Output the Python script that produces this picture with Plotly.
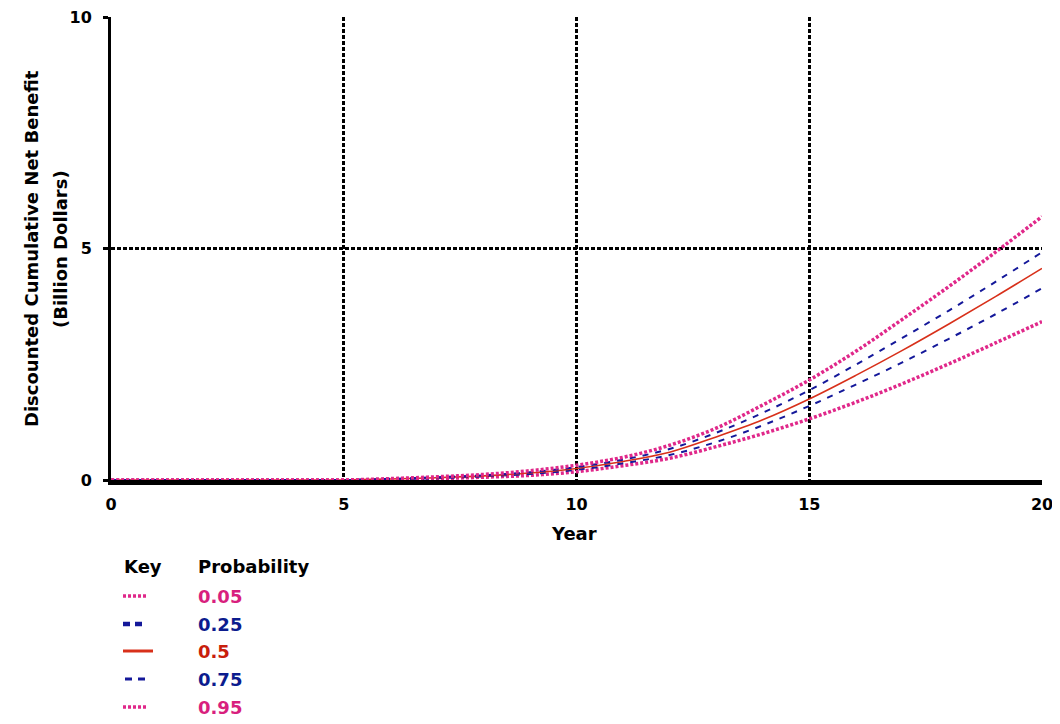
import plotly.graph_objects as go

# ---- data ----
years = [0, 1, 2, 3, 4, 5, 6, 7, 8, 9, 10, 11, 12, 13, 14, 15, 16, 17, 18, 19, 20]
p05 = [0, 0, 0, 0, 0, 0, 0.01, 0.03, 0.06, 0.10, 0.18, 0.31, 0.47, 0.72, 1.00, 1.32, 1.68, 2.08, 2.51, 2.96, 3.42]
p25 = [0, 0, 0, 0, 0, 0, 0.015, 0.04, 0.08, 0.13, 0.22, 0.36, 0.54, 0.82, 1.18, 1.60, 2.06, 2.54, 3.05, 3.58, 4.14]
p50 = [0, 0, 0, 0, 0, 0, 0.02, 0.05, 0.09, 0.15, 0.25, 0.40, 0.60, 0.93, 1.30, 1.75, 2.26, 2.80, 3.37, 3.96, 4.57]
p75 = [0, 0, 0, 0, 0, 0, 0.025, 0.06, 0.10, 0.17, 0.28, 0.44, 0.67, 1.02, 1.45, 1.94, 2.49, 3.07, 3.66, 4.28, 4.92]
p95 = [0, 0, 0, 0, 0, 0, 0.03, 0.07, 0.12, 0.20, 0.32, 0.49, 0.75, 1.12, 1.62, 2.16, 2.78, 3.47, 4.18, 4.92, 5.69]

prob_labels = ["0.05", "0.25", "0.5", "0.75", "0.95"]
x_ticks = [0, 5, 10, 15, 20]
y_ticks = [0, 5, 10]

PINK = "#e0288a"
BLUE = "#14189a"
RED = "#d8301a"
TXT_COLORS = ["#d81f7e", "#0c1c8e", "#c81e0c", "#0c1c8e", "#d81f7e"]

series = [p05, p25, p50, p75, p95]
styles = [
    dict(color=PINK, width=3.5, dash="3px,2px"),
    dict(color=BLUE, width=2, dash="6px,7px"),
    dict(color=RED, width=1.6, dash="solid"),
    dict(color=BLUE, width=2, dash="6px,7px"),
    dict(color=PINK, width=3.5, dash="3px,2px"),
]

FONT = "DejaVu Sans"

fig = go.Figure()
for vals, st, lab in zip(series, styles, prob_labels):
    fig.add_trace(go.Scatter(
        x=years, y=vals, mode="lines", name=lab, line=st,
        cliponaxis=False, showlegend=False, line_shape="spline",
    ))

# the page body has an 8px margin, so the figure is offset by 8px
OFF = 8
W, H = 1060 - OFF, 724 - OFF
L, R, T, B = 111 - OFF, 18, 17 - OFF, 244
pw = W - L - R
ph = H - T - B

def px_x(px):
    return (px - OFF - L) / pw

def px_y(py):
    return (H - B - (py - OFF)) / ph

fig.update_layout(
    width=W, height=H,
    margin=dict(l=L, r=R, t=T, b=B),
    paper_bgcolor="white", plot_bgcolor="white",
    font=dict(family=FONT, color="black"),
    xaxis=dict(
        range=[0, 20], tickvals=x_ticks, ticktext=[str(v) for v in x_ticks],
        showline=True, linecolor="black", linewidth=5,
        showgrid=True, gridcolor="black", gridwidth=2.5, griddash="4px,2px",
        zeroline=False, ticks="", ticklabelstandoff=6,
        ticklabeloverflow="allow",
        tickfont=dict(family=FONT, size=16, weight="bold", color="black"),
        layer="below traces", automargin=False,
    ),
    yaxis=dict(
        range=[0, 10], tickvals=y_ticks, ticktext=[str(v) for v in y_ticks],
        showline=True, linecolor="black", linewidth=3,
        showgrid=True, gridcolor="black", gridwidth=2.5, griddash="4px,2px",
        zeroline=False, ticks="outside", ticklen=5, tickwidth=3, tickcolor="black",
        ticklabelstandoff=8, ticklabeloverflow="allow",
        tickfont=dict(family=FONT, size=16, weight="bold", color="black"),
        layer="below traces", automargin=False,
    ),
)

annotations = []
# y-axis title (two lines)
annotations.append(dict(
    text="Discounted Cumulative Net Benefit", textangle=-90,
    xref="paper", yref="paper", x=px_x(31), y=px_y(249),
    xanchor="center", yanchor="middle", showarrow=False,
    font=dict(family=FONT, size=18, weight="bold", color="black"),
))
annotations.append(dict(
    text="(Billion Dollars)", textangle=-90,
    xref="paper", yref="paper", x=px_x(60), y=px_y(249),
    xanchor="center", yanchor="middle", showarrow=False,
    font=dict(family=FONT, size=18, weight="bold", color="black"),
))
# x-axis title
annotations.append(dict(
    text="Year", xref="paper", yref="paper", x=px_x(574), y=px_y(533),
    xanchor="center", yanchor="middle", showarrow=False,
    font=dict(family=FONT, size=18, weight="bold", color="black"),
))
# key header
annotations.append(dict(
    text="Key", xref="paper", yref="paper", x=px_x(122), y=px_y(566),
    xanchor="left", yanchor="middle", showarrow=False,
    font=dict(family=FONT, size=18, weight="bold", color="black"),
))
annotations.append(dict(
    text="Probability", xref="paper", yref="paper", x=px_x(196), y=px_y(566),
    xanchor="left", yanchor="middle", showarrow=False,
    font=dict(family=FONT, size=18, weight="bold", color="black"),
))

row_y = [596, 624, 651, 679, 707]
sample_x = [(123, 148), (123, 145), (123, 153), (125, 145), (123, 148)]
sample_w = [3.5, 4.5, 3, 3, 3.5]
sample_dash = ["3px,2px", "7px,5px", "solid", "7px,6px", "3px,2px"]
sample_col = [PINK, BLUE, RED, BLUE, PINK]
shapes = []
for i, lab in enumerate(prob_labels):
    annotations.append(dict(
        text=lab, xref="paper", yref="paper", x=px_x(196), y=px_y(row_y[i]),
        xanchor="left", yanchor="middle", showarrow=False,
        font=dict(family=FONT, size=18, weight="bold", color=TXT_COLORS[i]),
    ))
    shapes.append(dict(
        type="line", xref="paper", yref="paper",
        x0=px_x(sample_x[i][0]), x1=px_x(sample_x[i][1]),
        y0=px_y(row_y[i]), y1=px_y(row_y[i]),
        line=dict(color=sample_col[i], width=sample_w[i], dash=sample_dash[i]),
    ))

fig.update_layout(annotations=annotations, shapes=shapes)

fig.write_html("out.html")
